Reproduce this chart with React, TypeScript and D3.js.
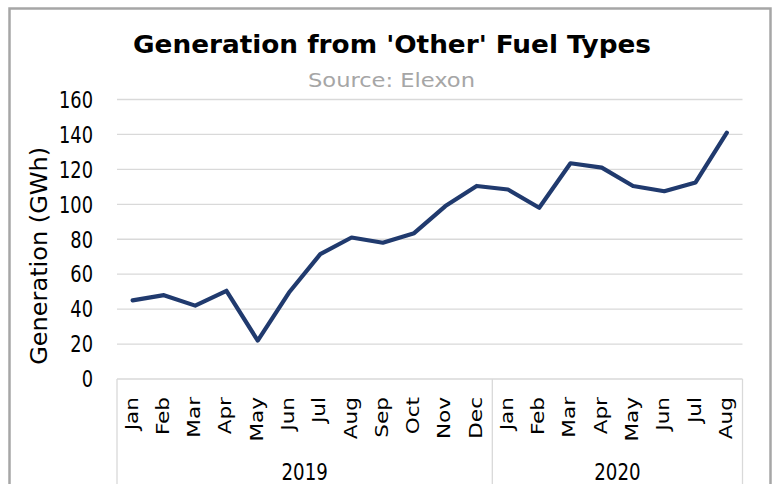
import React from 'react';
import * as d3 from 'd3';

// monthly generation from 'other' fuel types, GWh
const months = ['Jan', 'Feb', 'Mar', 'Apr', 'May', 'Jun', 'Jul', 'Aug', 'Sep', 'Oct', 'Nov', 'Dec',
  'Jan', 'Feb', 'Mar', 'Apr', 'May', 'Jun', 'Jul', 'Aug'];
const years = ['2019', '2020'];
const monthsPerYear = [12, 8];
const generation = [45, 48, 42, 50.5, 22, 49.5, 71.5, 81, 78, 83.5, 99, 110.5,
  108.5, 98, 123.5, 121, 110.5, 107.5, 112.5, 141];
const yTicks = [0, 20, 40, 60, 80, 100, 120, 140, 160];

const W = 774;
const H = 484;
const FONT = "Tahoma, 'DejaVu Sans Condensed', 'DejaVu Sans', sans-serif";
// squeeze DejaVu a bit so it reads like the narrower Tahoma in the original
const NARROW = 0.86;

const App = () => {
  const x = d3.scaleBand<number>()
    .domain(d3.range(months.length))
    .range([117, 742.5])
    .padding(0);
  const y = d3.scaleLinear().domain([0, 160]).range([379, 99.5]);

  const line = d3.line<number>()
    .x((_, i) => x(i)! + x.bandwidth() / 2)
    .y((d) => y(d));

  // year group boundaries in category index
  const starts = monthsPerYear.map((_, i) => d3.sum(monthsPerYear.slice(0, i)));
  const bounds = [...starts, months.length];

  return (
    <svg width={W} height={H} style={{ position: 'absolute', left: 0, top: 0 }} fontFamily={FONT}>
      <rect x={0} y={0} width={W} height={H} fill="#fff" />
      {/* chart frame */}
      <rect x={9.5} y={8.5} width={761} height={H + 10} fill="none" stroke="#a6a6a6" strokeWidth={2.5} />

      <text x={392} y={53} textAnchor="middle" fontSize={24} fontWeight="bold" fill="#000"
        textLength={518} lengthAdjust="spacingAndGlyphs">
        Generation from 'Other' Fuel Types
      </text>
      <text x={391.5} y={87} textAnchor="middle" fontSize={20} fill="#a6a6a6"
        textLength={167} lengthAdjust="spacingAndGlyphs">
        Source: Elexon
      </text>

      {/* gridlines */}
      {yTicks.filter((t) => t > 0).map((t) => (
        <line key={t} x1={x.range()[0]} x2={x.range()[1]} y1={y(t)} y2={y(t)}
          stroke="#d9d9d9" strokeWidth={1.3} />
      ))}
      {/* category axis box */}
      <line x1={x.range()[0]} x2={x.range()[1]} y1={y(0)} y2={y(0)} stroke="#d9d9d9" strokeWidth={1.3} />
      {bounds.map((b, i) => {
        const bx = b < months.length ? x(b)! : x.range()[1];
        return <line key={i} x1={bx} x2={bx} y1={y(0)} y2={H} stroke="#d9d9d9" strokeWidth={1.3} />;
      })}

      {/* y axis labels */}
      {yTicks.map((t) => (
        <text key={t} transform={`translate(93, ${y(t)}) scale(${NARROW}, 1)`} dy="0.36em"
          textAnchor="end" fontSize={23} fill="#000">{t}</text>
      ))}
      <text transform={`translate(47, ${(146.7 + 365) / 2}) rotate(-90)`} textAnchor="middle"
        fontSize={23} fill="#000" textLength={218} lengthAdjust="spacingAndGlyphs">
        Generation (GWh)
      </text>

      {/* month labels */}
      {months.map((m, i) => (
        <text key={i}
          transform={`translate(${x(i)! + x.bandwidth() / 2 + 5}, 397) rotate(-90) scale(1, 0.76)`}
          textAnchor="end" fontSize={24} fill="#000">
          {m}
        </text>
      ))}
      {/* year labels */}
      {years.map((yr, i) => {
        const x0 = x(bounds[i])!;
        const x1 = bounds[i + 1] < months.length ? x(bounds[i + 1])! : x.range()[1];
        return (
          <text key={yr} transform={`translate(${(x0 + x1) / 2}, 480) scale(0.88, 1)`}
            textAnchor="middle" fontSize={23} fill="#000">{yr}</text>
        );
      })}

      <path d={line(generation) ?? ''} fill="none" stroke="#203a6e" strokeWidth={4.2}
        strokeLinejoin="round" strokeLinecap="round" />
    </svg>
  );
};

export default App;
